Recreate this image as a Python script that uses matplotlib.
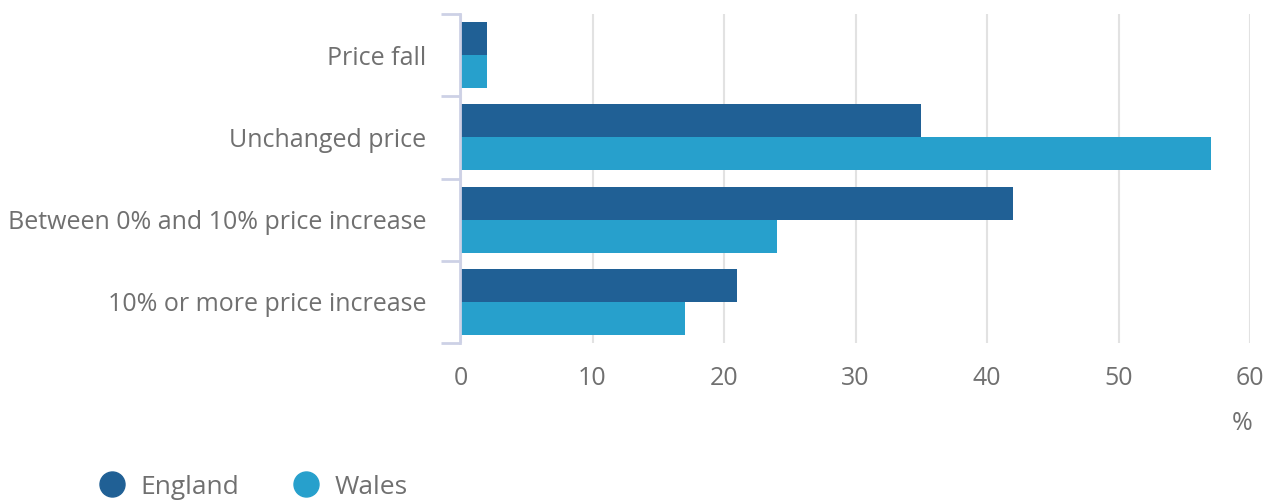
import numpy as np
import matplotlib.pyplot as plt
from matplotlib.lines import Line2D

plt.rcParams['font.family'] = ['Open Sans', 'DejaVu Sans']

# data
categories = ['Price fall', 'Unchanged price', 'Between 0% and 10% price increase',
              '10% or more price increase']
england = [2, 35, 42, 21]
wales = [2, 57, 24, 17]
xticks = [0, 10, 20, 30, 40, 50, 60]

col_eng = '#206095'
col_wal = '#27a0cc'
txt = '#707070'

fig = plt.figure(figsize=(12.74, 5.0), dpi=100)
ax = fig.add_axes([461/1274, 1 - 343/500, (1250 - 461)/1274, (343 - 14)/500])

y = np.arange(len(categories))
h = 0.4
ax.barh(y - h/2, england, height=h, color=col_eng)
ax.barh(y + h/2, wales, height=h, color=col_wal)

ax.set_xlim(0, 60)
ax.set_ylim(len(categories) - 0.5, -0.5)
ax.set_xticks(xticks)
ax.set_xticklabels([str(t) for t in xticks])
ax.set_yticks(y)
ax.set_yticklabels(categories)
ax.set_yticks(np.arange(-0.5, len(categories), 1), minor=True)

ax.grid(axis='x', color='#e2e2e2', linewidth=1.5)
ax.set_axisbelow(True)
for s in ['top', 'right', 'bottom']:
    ax.spines[s].set_visible(False)
ax.spines['left'].set_color('#cdd1e6')
ax.spines['left'].set_linewidth(2)
ax.spines['left'].set_position(('outward', 1))

ax.tick_params(axis='y', which='major', length=0, pad=24, labelsize=18, labelcolor=txt)
ax.tick_params(axis='y', which='minor', length=14, width=2, color='#cdd1e6')
ax.tick_params(axis='x', length=0, pad=16.5, labelsize=18, labelcolor=txt)

fig.text(1242/1274, 1 - 424/500, '%', ha='center', va='center', fontsize=18, color=txt)

handles = [Line2D([], [], marker='o', linestyle='', markersize=18, color=col_eng),
           Line2D([], [], marker='o', linestyle='', markersize=18, color=col_wal)]
fig.legend(handles, ['England', 'Wales'], loc='center left',
           bbox_to_anchor=(96/1274, 1 - 487/500), ncol=2, frameon=False,
           fontsize=19, labelcolor=txt, handlelength=1.2, handletextpad=0.5,
           columnspacing=1.9, borderaxespad=0, borderpad=0)

fig.savefig('out.png', dpi=100)
